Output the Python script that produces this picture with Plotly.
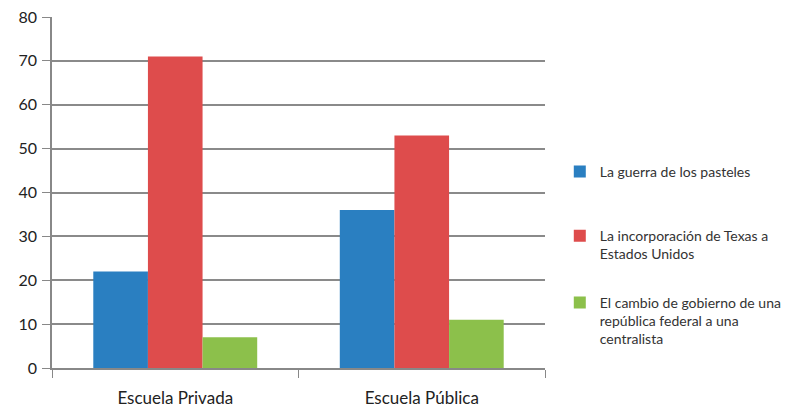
import plotly.graph_objects as go

categories = ["Escuela Privada", "Escuela Pública"]
series_names = [
    "La guerra de los pasteles",
    "La incorporación de Texas a<br>Estados Unidos",
    "El cambio de gobierno de una<br>república federal a una<br>centralista",
]
series_values = [
    [22, 36],
    [71, 53],
    [7, 11],
]
series_colors = ["#2a7fc1", "#de4c4c", "#8cc04b"]
y_ticks = [0, 10, 20, 30, 40, 50, 60, 70, 80]

# each series gets its own legend box so the entries can be spaced evenly
legend_ids = ["legend", "legend2", "legend3"]
legend_tops = [0.604, 0.421, 0.231]

fig = go.Figure()
for name, vals, col, lid in zip(series_names, series_values, series_colors, legend_ids):
    fig.add_trace(go.Bar(
        x=categories, y=vals, name=name,
        marker=dict(color=col, line=dict(width=0)),
        legend=lid,
    ))

legend_style = dict(
    x=1.03, xanchor="left", yanchor="top", valign="top",
    font=dict(size=14, color="#333"),
    itemwidth=30, bgcolor="rgba(0,0,0,0)",
)

fig.update_layout(
    width=810, height=410,
    margin=dict(l=52, r=265, t=17, b=42, autoexpand=False),
    paper_bgcolor="white", plot_bgcolor="white",
    barmode="group", bargap=0.335, bargroupgap=0,
    font=dict(family="Lato, sans-serif", color="#222"),
    showlegend=True,
    legend=dict(y=legend_tops[0], **legend_style),
    legend2=dict(y=legend_tops[1], **legend_style),
    legend3=dict(y=legend_tops[2], **legend_style),
    xaxis=dict(
        showline=True, linecolor="#888", linewidth=1.5,
        ticks="outside", tickson="boundaries", ticklen=8, tickcolor="#888",
        tickfont=dict(size=17, color="#222"), showgrid=False,
        ticklabelstandoff=14, automargin=False,
    ),
    yaxis=dict(
        range=[0, 80], tickvals=y_ticks,
        showline=True, linecolor="#888", linewidth=1.5,
        ticks="outside", ticklen=8, tickcolor="#888",
        showgrid=True, gridcolor="#8a8a8a", gridwidth=1.5,
        tickfont=dict(size=16, color="#222"), zeroline=False,
        ticklabelstandoff=2, automargin=False,
    ),
)

fig.write_html("out.html")
